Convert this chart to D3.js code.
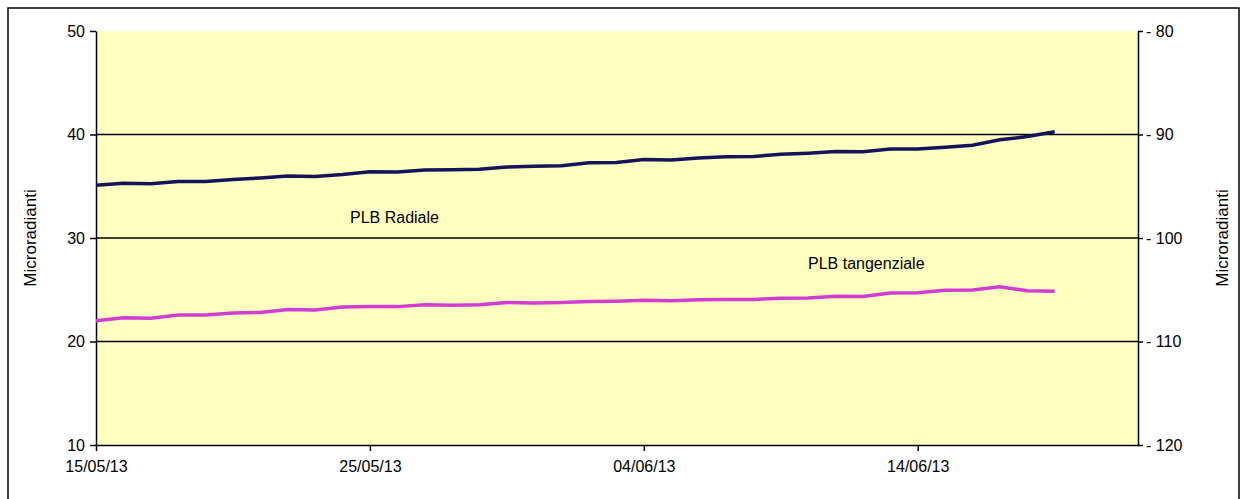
<!doctype html>
<html>
<head>
<meta charset="UTF-8">
<script src="https://d3js.org/d3.v7.min.js"></script>
<style>body{margin:0;background:#fff;font-family:"Liberation Sans",Arial,sans-serif}</style>
</head>
<body>
<svg width="1245" height="499"></svg>
<script>
// one value per day starting 15/05/13 (last point 18/06/13)
var start = new Date(2013, 4, 15);
var radiale = [35.1,35.2,35.3,35.4,35.5,35.6,35.8,35.9,36.0,36.1,36.3,36.4,36.5,36.6,36.7,36.8,36.9,37.0,37.2,37.3,
               37.5,37.6,37.7,37.8,37.9,38.0,38.2,38.3,38.4,38.5,38.6,38.7,39.0,39.4,39.8,40.2];
var tangenziale = [22.0,22.2,22.3,22.5,22.6,22.7,22.8,23.0,23.1,23.3,23.3,23.4,23.5,23.5,23.6,23.7,23.7,23.8,23.8,23.9,
                   23.9,24.0,24.0,24.0,24.1,24.1,24.2,24.3,24.4,24.6,24.7,24.9,25.0,25.2,24.9,24.8];
var wiggle = [0,0.15,-0.1,0.1,-0.05,0.1,0,0.15,-0.1,0.05,0.15,-0.05,0.1,0,-0.1,0.1,0.05,-0.05,0.1,0,
              0.15,-0.1,0.05,0.1,-0.05,0.15,0,0.1,-0.1,0.15,0,0.1,-0.05,0.15,0,0.1];
var leftTicks = [10, 20, 30, 40, 50];
var rightTicks = [-120, -110, -100, -90, -80];
var dateTicks = [new Date(2013,4,15), new Date(2013,4,25), new Date(2013,5,4), new Date(2013,5,14)];

var svg = d3.select("svg");
var L = 96, R = 1138, T = 31, B = 445;
svg.append("rect").attr("x", 8).attr("y", 8).attr("width", 1231).attr("height", 500)
   .attr("fill", "#fff").attr("stroke", "#000").attr("stroke-width", 1.5);

var x = d3.scaleTime().domain([start, new Date(2013, 5, 22, 1)]).range([L, R]);
var y = d3.scaleLinear().domain([10, 50]).range([B, T]);
var y2 = d3.scaleLinear().domain([-120, -80]).range([B, T]);

svg.append("rect").attr("x", L).attr("y", T).attr("width", R - L).attr("height", B - T)
   .attr("fill", "#ffffc0").attr("stroke", "none");

svg.selectAll("line.grid").data([20, 30, 40]).enter().append("line")
   .attr("x1", L).attr("x2", R).attr("y1", d => y(d)).attr("y2", d => y(d))
   .attr("stroke", "#000").attr("stroke-width", 1.3);

function fmt(d) { return d3.timeFormat("%d/%m/%y")(d); }

var ax = svg.append("g").attr("transform", "translate(0," + B + ")")
   .call(d3.axisBottom(x).tickValues(dateTicks).tickFormat(fmt).tickSize(6).tickSizeOuter(0));
var al = svg.append("g").attr("transform", "translate(" + L + ",0)")
   .call(d3.axisLeft(y).tickValues(leftTicks).tickSize(6).tickSizeOuter(0));
var ar = svg.append("g").attr("transform", "translate(" + R + ",0)")
   .call(d3.axisRight(y2).tickValues(rightTicks).tickFormat(d => "- " + Math.abs(d)).tickSize(5).tickSizeOuter(0));
[ax, al, ar].forEach(function (g) {
  g.selectAll("path,line").attr("stroke", "#000").attr("stroke-width", 1.5);
  g.selectAll("text").attr("font-family", "Liberation Sans, Arial").attr("font-size", 16).attr("fill", "#000");
});
ax.selectAll("text").attr("dy", "1.1em");
al.selectAll("text").attr("dx", "-2");

function line(vals) {
  return d3.line().x((d, i) => x(d3.timeDay.offset(start, i)) ).y((d, i) => y(d + wiggle[i] * 0.6))
    .curve(d3.curveLinear)(vals);
}
svg.append("path").attr("d", line(tangenziale)).attr("fill", "none").attr("stroke", "#d23cd2").attr("stroke-width", 3.5);
svg.append("path").attr("d", line(radiale)).attr("fill", "none").attr("stroke", "#14145a").attr("stroke-width", 3.5);

svg.append("text").attr("x", 350).attr("y", 223).attr("font-size", 16).text("PLB Radiale");
svg.append("text").attr("x", 808).attr("y", 269).attr("font-size", 16).text("PLB tangenziale");

svg.append("text").attr("transform", "translate(36," + (T + B) / 2 + ") rotate(-90)")
   .attr("text-anchor", "middle").attr("font-size", 17).text("Microradianti");
svg.append("text").attr("transform", "translate(1228," + (T + B) / 2 + ") rotate(-90)")
   .attr("text-anchor", "middle").attr("font-size", 17).text("Microradianti");
</script>
</body>
</html>
